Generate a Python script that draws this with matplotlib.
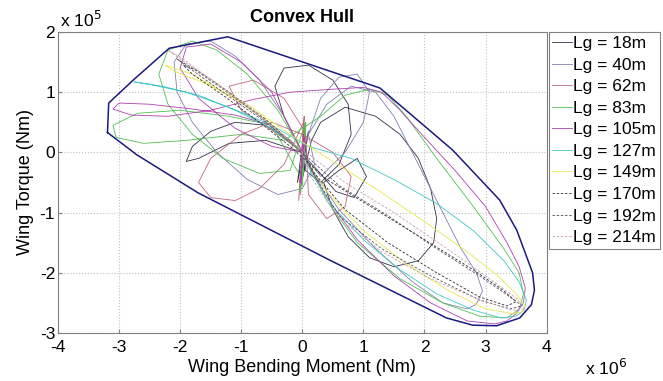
import numpy as np
import matplotlib.pyplot as plt

plt.rcParams['font.family'] = ['Liberation Sans', 'DejaVu Sans']
plt.rcParams['axes.unicode_minus'] = False

# values: x in 1e6 Nm, y in 1e5 Nm
hull_x = [-3.19, -3.17, -2.77, -2.18, -1.22, 1.27, 2.46, 3.23, 3.51, 3.77, 3.80, 3.75, 3.56, 3.18, 2.79, 2.36, 0.45, -1.71, -2.71, -3.19]
hull_y = [0.33, 0.82, 1.20, 1.73, 1.92, 1.07, 0.04, -0.79, -1.29, -2.00, -2.29, -2.53, -2.75, -2.88, -2.87, -2.75, -1.79, -0.67, -0.04, 0.33]

labels = ['Lg = 18m', 'Lg = 40m', 'Lg = 62m', 'Lg = 83m', 'Lg = 105m',
          'Lg = 127m', 'Lg = 149m', 'Lg = 170m', 'Lg = 192m', 'Lg = 214m']

x18 = [0, 0.05, -0.08, 0.1, -0.05, 0.15, 0.3, 0.7, 1.2, 1.6, 1.9, 2.1, 2.2, 2.15, 1.9, 1.5, 1.1, 0.75, 0.5, 0.35,
       0.6, 0.9, 1.05, 0.85, 0.55, 0.25, -0.2, -0.6, -1.1, -1.5, -1.8, -1.9, -1.7, -1.2, -0.6, 0.0,
       -0.3, -0.45, -0.3, 0.1, 0.5, 0.75, 0.8, 0.6, 0.3, 0.05, 0]
y18 = [0, 0.5, -0.5, 0.35, -0.65, 0.2, 0.5, 0.75, 0.6, 0.3, -0.1, -0.6, -1.1, -1.5, -1.8, -1.9, -1.75, -1.4, -0.95, -0.5,
       -0.3, -0.1, -0.4, -0.75, -0.65, -0.3, 0.2, 0.45, 0.5, 0.35, 0.1, -0.15, -0.1, 0.15, 0.2, 0.0,
       0.6, 1.1, 1.4, 1.45, 1.2, 0.8, 0.3, -0.2, -0.5, -0.3, 0]

x40 = [0, -0.3, -0.7, -1.1, -1.5, -1.9, -2.1, -2.05, -1.8, -1.4, -0.9, -0.4, 0.0, 0.2, 0.1,
       0.4, 0.8, 1.2, 1.5, 1.8, 2.2, 2.6, 2.85, 2.95, 2.85, 2.7, 2.3, 1.8, 1.2, 0.6, 0.2, 0,
       0.3, 0.6, 0.9, 1.1, 1.0, 0.7, 0.3, 0]
y40 = [0, 0.6, 1.2, 1.6, 1.85, 1.8, 1.5, 1.0, 0.5, 0.0, -0.45, -0.7, -0.6, -0.2, 0.3,
       0.8, 1.1, 1.0, 0.6, 0.0, -0.8, -1.6, -2.0, -2.3, -2.52, -2.6, -2.5, -2.15, -1.6, -0.95, -0.35, 0,
       0.9, 1.25, 1.3, 1.0, 0.5, 0.0, -0.4, 0]

x62 = [0, 0.03, -0.03, 0.06, -0.06, 0.02, -0.3, -0.7, -1.1, -1.5, -1.7, -1.5, -1.0, -0.5, 0.0,
       0.5, 0.8, 0.7, 0.4, 0.1, 0.05, -0.04, 0.04, -0.3, -0.8, -1.2, -1.0, -0.4, 0]
y62 = [0, 0.6, -0.7, 0.45, -0.8, 0.5, -0.2, -0.6, -0.8, -0.75, -0.5, -0.1, 0.3, 0.5, 0.3,
       0.0, -0.4, -0.9, -1.1, -0.7, 0.4, -0.5, 0.35, 0.9, 1.2, 1.1, 0.7, 0.3, 0]

x83 = [0, -0.4, -0.9, -1.4, -1.8, -2.2, -2.35, -2.2, -1.8, -1.3, -0.7, -0.2, 0.05, -0.04, 0.05, 0.0, 0.04, -0.03,
       -0.5, -1.2, -2.0, -2.7, -3.1, -3.05, -2.6, -1.9, -1.0, -0.3,
       0.3, 0.7, 1.1, 1.4, 1.7, 2.2, 2.8, 3.3, 3.55, 3.62, 3.55, 3.35, 2.9, 2.3, 1.6, 0.9, 0.4, 0.1, 0]
y83 = [0, 0.7, 1.3, 1.7, 1.85, 1.7, 1.3, 0.8, 0.3, -0.1, -0.35, -0.3, 0.5, -0.65, 0.4, -0.55, 0.45, -0.4,
       0.45, 0.6, 0.7, 0.65, 0.45, 0.25, 0.15, 0.2, 0.3, 0.2,
       0.6, 0.95, 1.05, 0.95, 0.6, -0.1, -0.9, -1.6, -2.0, -2.35, -2.6, -2.75, -2.72, -2.5, -2.1, -1.5, -0.8, -0.2, 0]

x105 = [0, -0.5, -1.1, -1.8, -2.5, -3.0, -3.1, -2.8, -2.2, -1.5, -0.8, -0.2, 0.5, 1.0, 1.3, 1.6, 2.0, 2.5, 3.0, 3.35,
        3.55, 3.65, 3.62, 3.5, 3.35, 3.15, 2.7, 2.1, 1.5, 0.9, 0.4, 0.1,
        0.02, -0.02, 0.03, -0.03, 0.02, -0.02, 0.03, 0.0,
        -0.5, -1.0, -1.5, -1.9, -2.0, -1.7, -1.1, -0.5, 0]
y105 = [0, 0.45, 0.62, 0.72, 0.8, 0.82, 0.72, 0.62, 0.6, 0.7, 0.88, 1.0, 1.05, 1.08, 1.0, 0.7, 0.25, -0.3, -0.9, -1.5,
        -1.9, -2.25, -2.5, -2.68, -2.8, -2.85, -2.8, -2.5, -2.05, -1.45, -0.75, -0.2,
        0.3, -0.45, 0.25, -0.5, 0.2, -0.35, 0.15, 0.0,
        1.0, 1.5, 1.8, 1.75, 1.4, 0.9, 0.4, 0.1, 0]

x127 = [0, -0.5, -1.1, -1.7, -2.3, -2.75, -2.5, -1.9, -1.2, -0.5, 0.1, 0.8, 1.5, 2.2, 2.8, 3.3, 3.55, 3.67, 3.63, 3.5,
        3.25, 2.8, 2.2, 1.6, 1.0, 0.5, 0.15, 0]
y127 = [0, 0.4, 0.7, 0.95, 1.1, 1.17, 1.13, 1.0, 0.75, 0.45, 0.1, -0.1, -0.45, -0.85, -1.3, -1.8, -2.15, -2.45, -2.62, -2.72,
        -2.75, -2.62, -2.35, -1.95, -1.45, -0.9, -0.35, 0]

x149 = [0, -0.6, -1.2, -1.8, -2.25, -2.1, -1.6, -0.9, -0.2, 0.5, 1.2, 2.0, 2.7, 3.2, 3.5, 3.65, 3.6, 3.45, 3.0,
        2.4, 1.7, 1.0, 0.4, 0.05, 0]
y149 = [0, 0.55, 0.95, 1.3, 1.45, 1.35, 1.15, 0.8, 0.3, -0.15, -0.6, -1.15, -1.65, -2.05, -2.35, -2.55, -2.65, -2.68, -2.6,
        -2.3, -1.85, -1.3, -0.65, -0.1, 0]

x170 = [0, -0.6, -1.2, -1.7, -1.95, -1.8, -1.3, -0.7, -0.2, 0.4, 1.2, 2.0, 2.8, 3.3, 3.5, 3.35, 2.9, 2.2, 1.4, 0.7, 0.2, 0]
y170 = [0, 0.55, 1.0, 1.35, 1.45, 1.3, 0.95, 0.5, 0.1, -0.45, -0.95, -1.45, -1.95, -2.3, -2.48, -2.55, -2.4, -2.0, -1.5, -0.95, -0.35, 0]

x192 = [0, -0.7, -1.3, -1.8, -2.05, -1.85, -1.3, -0.6, 0.0, 0.6, 1.4, 2.2, 2.9, 3.4, 3.6, 3.4, 2.9, 2.1, 1.3, 0.6, 0.15, 0]
y192 = [0, 0.6, 1.05, 1.4, 1.55, 1.4, 1.0, 0.5, 0.0, -0.55, -1.05, -1.6, -2.05, -2.4, -2.55, -2.6, -2.45, -2.05, -1.6, -1.05, -0.3, 0]

x214 = [0, -0.8, -1.5, -1.95, -2.2, -2.0, -1.4, -0.7, 0.0, 0.7, 1.5, 2.3, 3.0, 3.5, 3.65, 3.45, 2.9, 2.1, 1.3, 0.6, 0.1, 0]
y214 = [0, 0.7, 1.2, 1.55, 1.7, 1.55, 1.15, 0.6, 0.05, -0.5, -1.0, -1.55, -2.05, -2.42, -2.6, -2.62, -2.45, -2.1, -1.65, -1.1, -0.35, 0]

series_x = [x18, x40, x62, x83, x105, x127, x149, x170, x192, x214]
series_y = [y18, y40, y62, y83, y105, y127, y149, y170, y192, y214]

colors = ['#30304a', '#8080b0', '#c06878', '#50c050', '#b040b0',
          '#40c8c8', '#e8e850', '#303030', '#505068', '#c8a0a0']
styles = ['-'] * 7 + ['--'] * 3

fig = plt.figure(figsize=(6.63, 3.81), dpi=100)
ax = fig.add_axes([0.0875, 0.126, 0.737, 0.79])

for xs, ys, c, ls, lab in zip(series_x, series_y, colors, styles, labels):
    ln, = ax.plot(xs, ys, color=c, ls=ls, lw=0.6, label=lab)
    if ls == '--':
        ln.set_dashes((3, 2))

ax.plot(hull_x, hull_y, color='#1a1a80', lw=1.1)

ax.set_xlim(-4, 4)
ax.set_ylim(-3, 2)
ax.set_xticks(np.arange(-4, 5, 1))
ax.set_yticks(np.arange(-3, 3, 1))
ax.grid(True, ls=':', color='#c0c0c0', lw=0.8)
for s in ax.spines.values():
    s.set_color('#808080')
ax.tick_params(labelsize=12.5, length=3, color='#808080', direction='in')
ax.tick_params(axis='x', pad=5)
ax.tick_params(axis='y', pad=2)

ax.set_title('Convex Hull', fontsize=13, fontweight='bold', pad=7)
ax.set_xlabel('Wing Bending Moment (Nm)', fontsize=13, labelpad=3)
ax.set_ylabel('Wing Torque (Nm)', fontsize=13, labelpad=4)
fig.text(0.09, 0.928, r'x 10$^5$', fontsize=12.5)
fig.text(0.882, 0.015, r'x 10$^6$', fontsize=12.5)

leg = ax.legend(loc='upper left', bbox_to_anchor=(0.828, 0.915), bbox_transform=fig.transFigure,
                fontsize=12.5, handlelength=1.1, handletextpad=0.1, labelspacing=0.37,
                borderpad=0.2, borderaxespad=0, fancybox=False, framealpha=1)
leg.get_frame().set_edgecolor('#808080')
leg.get_frame().set_linewidth(0.8)

fig.savefig('out.png', dpi=100)
